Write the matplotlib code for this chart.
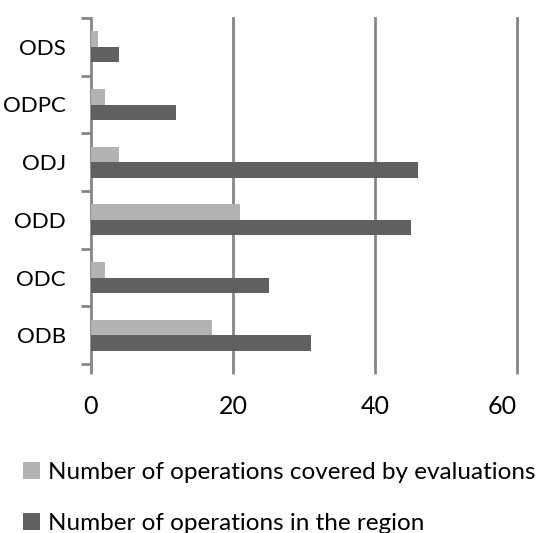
import matplotlib
matplotlib.use("Agg")
import matplotlib.pyplot as plt
import numpy as np

plt.rcParams['font.family'] = ['Lato', 'DejaVu Sans']

categories = ["ODB", "ODC", "ODD", "ODJ", "ODPC", "ODS"]
covered = [17, 2, 21, 4, 2, 1]
in_region = [31, 25, 45, 46, 12, 4]
series_names = ["Number of operations covered by evaluations",
                "Number of operations in the region"]
xticks = [0, 20, 40, 60]

light = "#b3b3b3"
dark = "#606060"
gridc = "#868686"

fig = plt.figure(figsize=(5.47, 5.33), dpi=100)
ax = fig.add_axes([91/547, 1 - 364/533, (517-91)/547, (364-18)/533])

y = np.arange(len(categories))
h = 0.27
ax.barh(y + h/2, covered, height=h, color=light, label=series_names[0], zorder=3)
ax.barh(y - h/2, in_region, height=h, color=dark, label=series_names[1], zorder=3)

ax.set_xlim(0, 60)
ax.set_ylim(-0.5, len(categories) - 0.5)
ax.set_xticks(xticks)
ax.set_xticklabels([str(v) for v in xticks], fontsize=18)
ax.get_xticklabels()[-1].set_horizontalalignment('right')
ax.get_xticklabels()[-1].set_x(61)
ax.set_yticks(y)
ax.set_yticklabels(categories, fontsize=16)
ax.tick_params(axis='y', length=0, pad=18)
ax.set_yticks(np.arange(-0.5, len(categories)), minor=True)
ax.tick_params(axis='y', which='minor', length=7, width=2, color=gridc, direction='out')
ax.tick_params(axis='x', length=7, width=2, color=gridc, pad=15)

for v in xticks[1:]:
    ax.axvline(v, color=gridc, lw=2, zorder=1, clip_on=False)

for s in ['top', 'right', 'bottom']:
    ax.spines[s].set_visible(False)
ax.spines['left'].set_color(gridc)
ax.spines['left'].set_linewidth(2)

handles, labels = ax.get_legend_handles_labels()
fig.legend(handles, labels, loc='upper left', bbox_to_anchor=(0.025, 1 - 452/533),
           frameon=False, fontsize=17.5, handlelength=0.7, handleheight=0.7,
           handletextpad=0.3, labelspacing=1.25, borderaxespad=0)

fig.savefig("out.png", dpi=100)
